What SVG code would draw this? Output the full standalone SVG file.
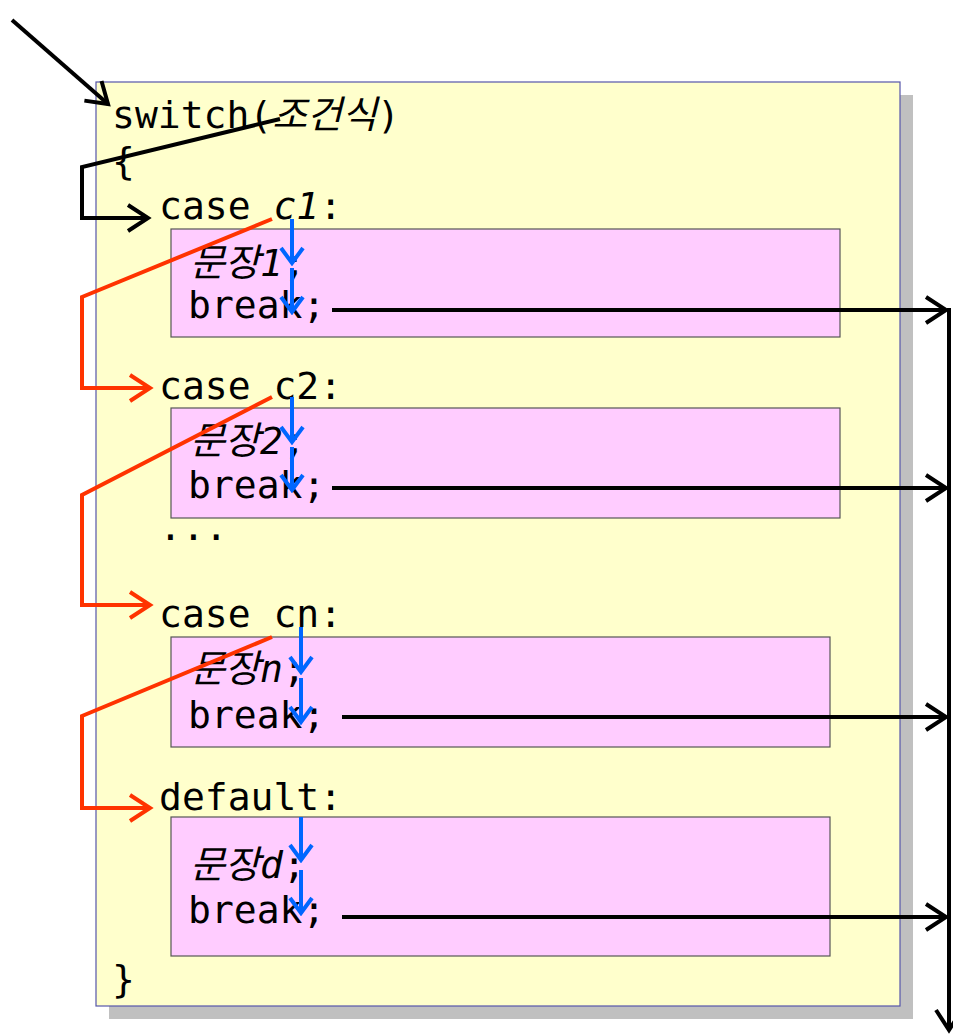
<svg xmlns="http://www.w3.org/2000/svg" width="953" height="1034" viewBox="0 0 953 1034">
<style>
.code{font-family:"DejaVu Sans Mono","Noto Sans CJK KR",monospace;font-size:38px;fill:#000}
.it{font-style:italic}
.blk{fill:none;stroke:#000;stroke-width:4}
.red{fill:none;stroke:#FF3300;stroke-width:4}
.blu{fill:none;stroke:#0066FF;stroke-width:4}
.pink{fill:#FFCCFF;stroke:#555;stroke-width:1.2}
</style>
<defs>
<marker id="ab" markerWidth="26" markerHeight="30" refX="22" refY="15" orient="auto" markerUnits="userSpaceOnUse"><path d="M2,2 L22,15 L2,28" fill="none" stroke="#000" stroke-width="4"/></marker>
<marker id="ar" markerWidth="26" markerHeight="30" refX="22" refY="15" orient="auto" markerUnits="userSpaceOnUse"><path d="M2,2 L22,15 L2,28" fill="none" stroke="#FF3300" stroke-width="4"/></marker>
<marker id="au" markerWidth="20" markerHeight="26" refX="17" refY="13" orient="auto" markerUnits="userSpaceOnUse"><path d="M2,2 L17,13 L2,24" fill="none" stroke="#0066FF" stroke-width="4"/></marker>
</defs>
<g id="frame">
<rect x="109" y="95" width="804" height="924" fill="#C0C0C0"/>
<rect x="96" y="82" width="804" height="924" fill="#FFFFCC" stroke="#5555AA" stroke-width="1.2"/>
</g>
<g id="box1"><rect class="pink" x="171" y="229" width="669" height="108"/></g>
<g id="box2"><rect class="pink" x="171" y="408" width="669" height="110"/></g>
<g id="box3"><rect class="pink" x="171" y="637" width="659" height="110"/></g>
<g id="box4"><rect class="pink" x="171" y="817" width="659" height="139"/></g>
<g id="texts">
<text class="code" x="112" y="128">switch(<tspan class="it">조건식</tspan>)</text>
<text class="code" x="112" y="174">{</text>
<text class="code" x="159" y="219">case <tspan class="it">c1</tspan>:</text>
<text class="code" x="190" y="276"><tspan class="it">문장1</tspan>;</text>
<text class="code" x="188" y="318">break;</text>
<text class="code" x="159" y="399">case c2:</text>
<text class="code" x="190" y="454"><tspan class="it">문장2</tspan>;</text>
<text class="code" x="188" y="498">break;</text>
<text class="code" x="159" y="540">...</text>
<text class="code" x="159" y="627">case cn:</text>
<text class="code" x="190" y="682"><tspan class="it">문장n</tspan>;</text>
<text class="code" x="188" y="728">break;</text>
<text class="code" x="159" y="810">default:</text>
<text class="code" x="190" y="878"><tspan class="it">문장d</tspan>;</text>
<text class="code" x="188" y="923">break;</text>
<text class="code" x="112" y="992">}</text>
</g>
<g id="connectors">
<line class="blk" x1="12" y1="20" x2="108" y2="104" marker-end="url(#ab)"/>
<polyline class="blk" points="280,119 82,167 82,218 148,218" marker-end="url(#ab)"/>
<polyline class="red" points="272,219 82,297 82,388 150,388" marker-end="url(#ar)"/>
<polyline class="red" points="272,397 82,495 82,605 150,605" marker-end="url(#ar)"/>
<polyline class="red" points="272,637 82,716 82,808 150,808" marker-end="url(#ar)"/>
<line class="blu" x1="292" y1="219" x2="292" y2="263" marker-end="url(#au)"/>
<line class="blu" x1="292" y1="268" x2="292" y2="312" marker-end="url(#au)"/>
<line class="blu" x1="292" y1="397" x2="292" y2="442" marker-end="url(#au)"/>
<line class="blu" x1="292" y1="447" x2="292" y2="490" marker-end="url(#au)"/>
<line class="blu" x1="301" y1="627" x2="301" y2="672" marker-end="url(#au)"/>
<line class="blu" x1="301" y1="678" x2="301" y2="722" marker-end="url(#au)"/>
<line class="blu" x1="301" y1="817" x2="301" y2="860" marker-end="url(#au)"/>
<line class="blu" x1="301" y1="870" x2="301" y2="913" marker-end="url(#au)"/>
<line class="blk" x1="332" y1="310" x2="946" y2="310" marker-end="url(#ab)"/>
<line class="blk" x1="332" y1="488" x2="946" y2="488" marker-end="url(#ab)"/>
<line class="blk" x1="342" y1="717" x2="946" y2="717" marker-end="url(#ab)"/>
<line class="blk" x1="342" y1="917" x2="946" y2="917" marker-end="url(#ab)"/>
<line class="blk" x1="949" y1="308" x2="949" y2="1030" marker-end="url(#ab)"/>
</g>
</svg>
